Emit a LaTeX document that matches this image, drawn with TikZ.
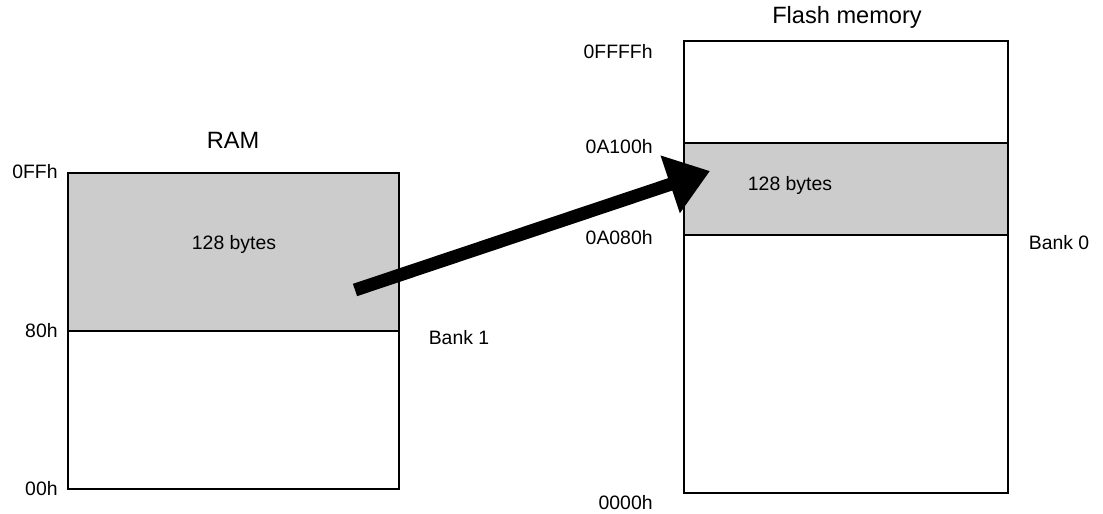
\documentclass[tikz,border=0pt]{standalone}
\usepackage{fontspec}
\setmainfont{Liberation Sans}
\usepackage{tikz}
\usepackage{xcolor}
\usetikzlibrary{positioning,shapes,arrows.meta}

\begin{document}
\begin{tikzpicture}[x=0.5pt,y=-0.5pt,
  every node/.style={font=\fontsize{9.7}{11}\selectfont},
  title/.style={font=\fontsize{11.8}{14}\selectfont},
  membox/.style={draw,shape=rectangle,line width=0.9pt,inner sep=0pt},
  addr/.style={anchor=east,inner sep=0pt}]
\useasboundingbox (0,0) rectangle (1103,514);
% RAM
      \draw node (ramtitle) at (233,140) [title]{RAM};
      \draw node (ramhi) at (233.5,252) [membox, fill=black!20, minimum width=165.5pt, minimum height=79pt]{};
      \draw node (ramlo) at (233.5,410) [membox, minimum width=165.5pt, minimum height=79pt]{};
      \draw node (ramsize) at (234,244) {128 bytes};
      \draw node (bank1) at (459,338) {Bank 1};
\draw node (a0FF) at (58,172) [addr]{0FFh};
\draw node (a80) at (58,331) [addr]{80h};
\draw node (a00) at (58,489) [addr]{00h};
% Flash memory
      \draw node (flashtitle) at (847,17) [title]{Flash memory};
      \draw node (flhi) at (846,92) [membox, minimum width=162pt, minimum height=51pt]{};
      \draw node (flmid) at (846,189) [membox, fill=black!20, minimum width=162pt, minimum height=46pt]{};
      \draw node (fllo) at (846,364) [membox, minimum width=162pt, minimum height=129pt]{};
      \draw node (flsize) at (790,185) {128 bytes};
      \draw node (bank0) at (1059,243) {Bank 0};
\draw node (aFFFF) at (653,52) [addr]{0FFFFh};
\draw node (aA100) at (653,147) [addr]{0A100h};
\draw node (aA080) at (653,238) [addr]{0A080h};
\draw node (a0000) at (653,503) [addr]{0000h};
% copy arrow
\coordinate (src) at (355,290);
\coordinate (dst) at (710,171);
\draw [line width=6.5pt, -{Triangle[length=21pt,width=29pt]}] (src) -- (dst);
\end{tikzpicture}
\end{document}
